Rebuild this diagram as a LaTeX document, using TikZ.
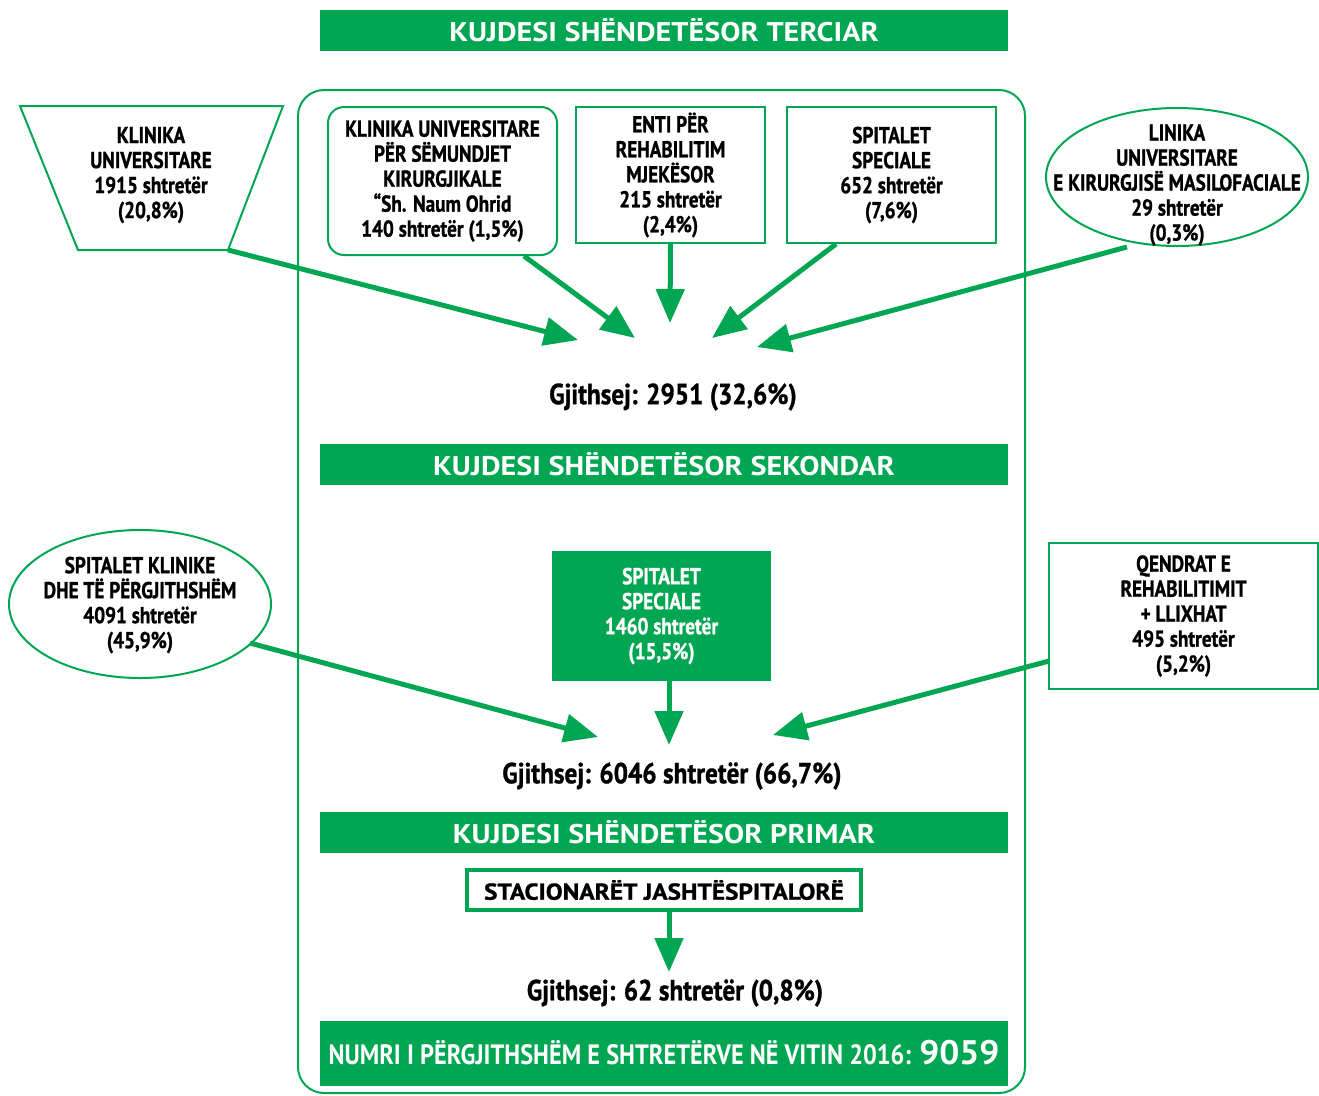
\documentclass[tikz,border=0pt]{standalone}
\usepackage{fontspec}
\setmainfont{PT Sans}
\newfontfamily\cfa[FakeStretch=0.835,FakeBold=1]{PT Sans}
\newfontfamily\cfg[FakeStretch=0.87,FakeBold=1]{PT Sans}
\newfontfamily\cfh[FakeStretch=1.12]{PT Sans}
\newfontfamily\cfb[FakeStretch=0.87]{PT Sans}
\newfontfamily\cfn[FakeStretch=1.04]{PT Sans}
\newfontfamily\cfs[FakeStretch=1.1,FakeBold=1]{PT Sans}
\usetikzlibrary{arrows.meta,shapes.geometric,calc}
\definecolor{grn}{HTML}{00A651}
\begin{document}
\begin{tikzpicture}[x=1pt,y=-1pt,
  txt/.style={align=center,inner sep=0,font=\cfa\bfseries\fontsize{23}{25}\selectfont},
  box/.style={txt,draw=grn,line width=2pt},
  ell/.style={draw=grn,line width=2pt,ellipse,inner sep=0},
  banner/.style={fill=grn,text=white,minimum width=688,minimum height=41,inner sep=0,font=\cfh\bfseries\fontsize{27}{30}\selectfont},
  total/.style={inner sep=0,font=\cfg\bfseries\fontsize{29}{32}\selectfont},
  arr/.style={draw=grn,line width=5pt,-{Triangle[length=34pt,width=28pt]}}
]
\useasboundingbox (0,0) rectangle (1319,1095);

% outer frame
\draw[grn,line width=2pt,rounded corners=26] (298,90) rectangle (1025,1093);

% banners
\node[banner] (b1) at (664,30) {KUJDESI SHËNDETËSOR TERCIAR};
\node[banner] (b2) at (664,464) {KUJDESI SHËNDETËSOR SEKONDAR};
\node[banner] (b3) at (664,832) {KUJDESI SHËNDETËSOR PRIMAR};
\node[banner,minimum height=65] (b4) at (664,1053) {\cfb\bfseries\fontsize{28}{30}\selectfont NUMRI I PËRGJITHSHËM E SHTRETËRVE NË VITIN 2016: \cfn\bfseries\fontsize{34}{36}\selectfont 9059};

% tertiary sources
\draw[grn,line width=2pt] (20,106) -- (283,106) -- (228,250) -- (78,250) -- cycle;
\coordinate (tz) at (228,250);
\node[txt] (k1) at (151,175) {KLINIKA\\UNIVERSITARE\\1915 shtretër\\(20,8\%)};
\node[box,rounded corners=16,minimum width=229,minimum height=148] (k2) at (442.5,181) {KLINIKA UNIVERSITARE\\PËR SËMUNDJET\\KIRURGJIKALE\\“Sh. Naum Ohrid\\140 shtretër (1,5\%)};
\node[box,minimum width=189,minimum height=136] (k3) at (670.5,175) {ENTI PËR\\REHABILITIM\\MJEKËSOR\\215 shtretër\\(2,4\%)};
\node[box,minimum width=209,minimum height=136] (k4) at (891.5,175) {SPITALET\\SPECIALE\\652 shtretër\\(7,6\%)};
\node[ell,minimum width=262,minimum height=138] (k5) at (1177,177) {};
\node[txt] (k5t) at (1177,185) {LINIKA\\UNIVERSITARE\\E KIRURGJISË MASILOFACIALE\\29 shtretër\\(0,3\%)};

\coordinate (t1) at (578,340);
\coordinate (t2) at (635,338);
\coordinate (t3) at (670,323);
\coordinate (t4) at (712,338);
\coordinate (t5) at (757,347);
\draw[arr] (tz) -- (t1);
\draw[arr] ($(k2.south east)+(-34,0)$) -- (t2);
\draw[arr] (k3.south) -- (t3);
\draw[arr] ($(k4.south west)+(50,0)$) -- (t4);
\draw[arr] (1127,247) -- (t5);

\node[total] (g1) at (673,397) {Gjithsej: 2951 (32,6\%)};

% secondary sources
\node[ell,minimum width=262,minimum height=148] (s1) at (140,604) {};
\node[txt] (s1t) at (140,605) {SPITALET KLINIKE\\DHE TË PËRGJITHSHËM\\4091 shtretër\\(45,9\%)};
\node[txt,fill=grn,text=white,minimum width=219,minimum height=130] (s2) at (661.5,616) {SPITALET\\SPECIALE\\1460 shtretër\\(15,5\%)};
\node[box,minimum width=269,minimum height=146] (s3) at (1183.5,616) {QENDRAT E\\REHABILITIMIT\\+ LLIXHAT\\495 shtretër\\(5,2\%)};

\coordinate (u1) at (598,737);
\coordinate (u2) at (669,745);
\coordinate (u3) at (773,735);
\draw[arr] (250,643) -- (u1);
\draw[arr] (669,681) -- (u2);
\draw[arr] (1049,661) -- (u3);

\node[total] (g2) at (672,776) {Gjithsej: 6046 shtretër (66,7\%)};

% primary
\node[draw=grn,line width=4pt,minimum width=394,minimum height=40,inner sep=0,font=\cfs\bfseries\fontsize{23}{25}\selectfont] (p1) at (664,890) {STACIONARËT JASHTËSPITALORË};
\coordinate (v1) at (669,972);
\draw[arr] (p1.south -| v1) -- (v1);
\node[total] (g3) at (675,993) {Gjithsej: 62 shtretër (0,8\%)};
\end{tikzpicture}
\end{document}
